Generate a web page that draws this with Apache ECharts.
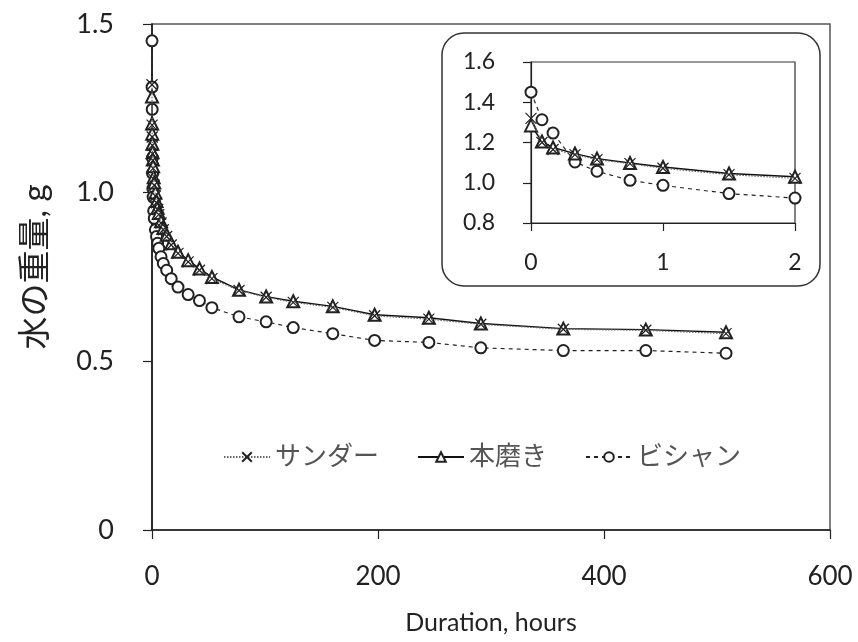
<!DOCTYPE html>
<html>
<head>
<meta charset="utf-8">
<script src="https://cdn.jsdelivr.net/npm/echarts@6/dist/echarts.min.js"></script>
<style>
  html, body { margin: 0; padding: 0; background: #fff; }
  #chart { width: 858px; height: 642px; }
</style>
</head>
<body>
<div id="chart"></div>
<script>
// 経過時間 (hours)
var hours = [0, 0.083, 0.167, 0.333, 0.5, 0.75, 1, 1.5, 2, 3, 4, 5, 6, 8, 10, 13, 17, 23, 32, 42, 53,
  77, 101, 125, 160, 197, 245, 291, 364, 437, 508];
// 水の重量, g
var sander = [1.32, 1.20, 1.165, 1.14, 1.115, 1.095, 1.072, 1.04, 1.022, 0.99, 0.97, 0.95, 0.935, 0.91,
  0.89, 0.87, 0.845, 0.82, 0.795, 0.77, 0.745, 0.71, 0.69, 0.675, 0.66, 0.635, 0.625, 0.61, 0.595, 0.592, 0.582];
var honmigaki = [1.285, 1.205, 1.175, 1.145, 1.12, 1.098, 1.078, 1.046, 1.03, 1.0, 0.975, 0.955, 0.94,
  0.915, 0.895, 0.875, 0.85, 0.825, 0.80, 0.775, 0.75, 0.712, 0.692, 0.678, 0.663, 0.638, 0.629, 0.612,
  0.597, 0.594, 0.586];
var bishan = [1.45, 1.313, 1.247, 1.103, 1.057, 1.012, 0.987, 0.946, 0.924, 0.89, 0.87, 0.85, 0.835,
  0.81, 0.79, 0.77, 0.745, 0.72, 0.698, 0.68, 0.659, 0.632, 0.617, 0.60, 0.582, 0.562, 0.556, 0.54,
  0.532, 0.532, 0.524];
var names = ["サンダー", "本磨き", "ビシャン"];
var insetMaxHour = 2;

var font = "Lato, 'Noto Sans CJK JP', sans-serif";
var crossPath = "path://M0,0L10,10M10,0L0,10";

function pairs(ys, limit) {
  var out = [];
  for (var i = 0; i < hours.length; i++) {
    if (limit == null || hours[i] <= limit) out.push([hours[i], ys[i]]);
  }
  return out;
}

// 3系列の見た目 (main / inset 共通)。× は△の上に描く
var styles = [
  { symbol: crossPath, size: 11, z: 5, line: { color: "#666", width: 1.2, type: [1.5, 1.5] } },
  { symbol: "emptyTriangle", size: 12, z: 4, line: { color: "#111", width: 1.4, type: "solid" } },
  { symbol: "emptyCircle", size: 11, z: 3, line: { color: "#222", width: 1.2, type: [4, 4] } }
];
var values = [sander, honmigaki, bishan];

function makeSeries(idx, inset) {
  var s = styles[idx];
  return {
    name: names[idx],
    type: "line",
    xAxisIndex: inset ? 1 : 0,
    yAxisIndex: inset ? 1 : 0,
    data: pairs(values[idx], inset ? insetMaxHour : null),
    symbol: s.symbol,
    symbolSize: s.size,
    showAllSymbol: true,
    z: inset ? 60 + s.z : s.z,
    lineStyle: s.line,
    itemStyle: { color: "#222", borderColor: "#222", borderWidth: 1.2 },
    emphasis: { disabled: true },
    animation: false
  };
}

var chart = echarts.init(document.getElementById("chart"));

var option = {
  animation: false,
  textStyle: { fontFamily: font },
  grid: [
    { left: 152, top: 24, right: 28, bottom: 112, show: true, borderColor: "#555",
      borderWidth: 1.5, backgroundColor: "transparent" },
    { left: 531, top: 62, width: 264, height: 161, show: true, borderColor: "#333",
      borderWidth: 1.2, backgroundColor: "transparent", z: 60 }
  ],
  graphic: [{
    type: "rect",
    z: 50,
    shape: { x: 442, y: 33, width: 378, height: 253, r: 22 },
    style: { fill: "#fff", stroke: "#333", lineWidth: 1.5 }
  }],
  legend: {
    data: names,
    left: 218,
    top: 439,
    itemWidth: 46,
    itemHeight: 12,
    itemGap: 38,
    textStyle: { fontSize: 26, color: "#555", fontFamily: font }
  },
  xAxis: [
    {
      gridIndex: 0, type: "value", min: 0, max: 600, interval: 200,
      name: "Duration, hours", nameLocation: "middle", nameGap: 80,
      nameTextStyle: { fontSize: 25, color: "#222" },
      axisLine: { show: true, lineStyle: { color: "#222", width: 1.5 } },
      axisTick: { show: true, length: 9, lineStyle: { color: "#222", width: 1.2 } },
      axisLabel: { fontSize: 26, color: "#222", margin: 34 },
      splitLine: { show: false }
    },
    {
      gridIndex: 1, type: "value", min: 0, max: 2, interval: 1, z: 60,
      axisLine: { show: true, lineStyle: { color: "#222", width: 1.2 } },
      axisTick: { show: true, length: 8, lineStyle: { color: "#222", width: 1.2 } },
      axisLabel: { fontSize: 23, color: "#222", margin: 28 },
      splitLine: { show: false }
    }
  ],
  yAxis: [
    {
      gridIndex: 0, type: "value", min: 0, max: 1.5, interval: 0.5,
      name: "水の重量, g", nameLocation: "middle", nameGap: 100, nameRotate: 90,
      nameTextStyle: { fontSize: 33, color: "#222", padding: [0, 0, 0, 20] },
      axisLine: { show: true, lineStyle: { color: "#111", width: 1.5 } },
      axisTick: { show: true, length: 9, lineStyle: { color: "#222", width: 1.2 } },
      axisLabel: { fontSize: 27, color: "#222", margin: 38,
        formatter: function (v) { return v === 0 ? "0" : v.toFixed(1); } },
      splitLine: { show: false }
    },
    {
      gridIndex: 1, type: "value", min: 0.8, max: 1.6, interval: 0.2, z: 60,
      axisLine: { show: true, lineStyle: { color: "#222", width: 1.2 } },
      axisTick: { show: true, length: 8, lineStyle: { color: "#222", width: 1.2 } },
      axisLabel: { fontSize: 23, color: "#222", margin: 36,
        formatter: function (v) { return v.toFixed(1); } },
      splitLine: { show: false }
    }
  ],
  series: [
    makeSeries(0, false), makeSeries(1, false), makeSeries(2, false),
    makeSeries(0, true), makeSeries(1, true), makeSeries(2, true)
  ]
};

chart.setOption(option);
</script>
</body>
</html>
